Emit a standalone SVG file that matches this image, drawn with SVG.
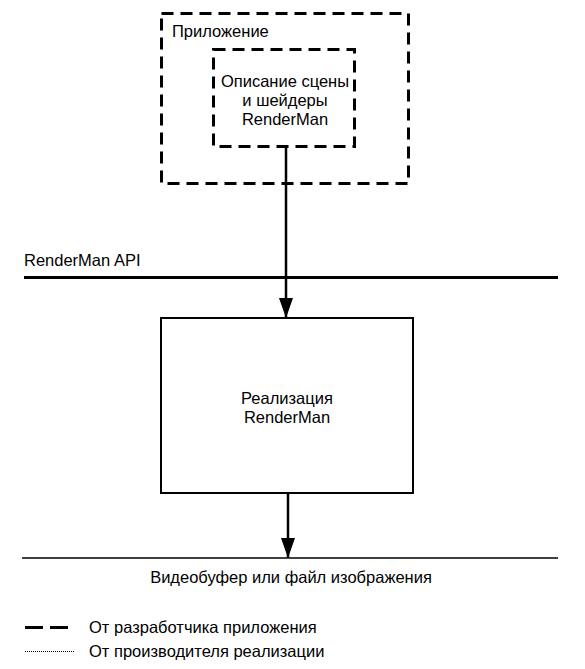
<svg xmlns="http://www.w3.org/2000/svg" width="585" height="669" viewBox="0 0 585 669">
<style>
text{font-family:"Liberation Sans",Arial,sans-serif;font-size:16.5px;fill:#000}
.dash{fill:none;stroke:#000;stroke-width:3;stroke-dasharray:12,7}
.solid{fill:none;stroke:#000;stroke-width:2}
.line{stroke:#000;fill:none}
</style>
<defs>
<marker id="arr" markerWidth="20" markerHeight="16" refX="20" refY="7" orient="auto" markerUnits="userSpaceOnUse">
<path d="M0,0 L20,7 L0,14 Z" fill="#000"/>
</marker>
</defs>
<rect width="585" height="669" fill="#fff"/>
<g id="app">
<rect class="dash" x="161.5" y="13.5" width="247" height="170"/>
<text x="172" y="37">Приложение</text>
</g>
<g id="scene">
<rect class="dash" x="213.5" y="49.5" width="141" height="97"/>
<text x="285" y="87" text-anchor="middle">Описание сцены</text>
<text x="285" y="106" text-anchor="middle">и шейдеры</text>
<text x="285" y="125" text-anchor="middle">RenderMan</text>
</g>
<g id="api">
<line class="line" x1="24" y1="277.5" x2="558" y2="277.5" stroke-width="3"/>
<text x="24" y="266">RenderMan API</text>
</g>
<g id="impl">
<rect class="solid" x="161" y="318" width="252" height="175"/>
<text x="287" y="404" text-anchor="middle">Реализация</text>
<text x="287" y="423" text-anchor="middle">RenderMan</text>
</g>
<g id="output">
<line class="line" x1="22" y1="558" x2="558" y2="558" stroke-width="1.5"/>
<text x="291" y="583" text-anchor="middle">Видеобуфер или файл изображения</text>
</g>
<g id="connectors">
<line class="line" x1="286" y1="146" x2="286" y2="318" stroke-width="2.5" marker-end="url(#arr)"/>
<line class="line" x1="288" y1="493" x2="288" y2="558" stroke-width="2.5" marker-end="url(#arr)"/>
</g>
<g id="legend">
<line class="line" x1="25" y1="627.5" x2="68" y2="627.5" stroke-width="3" stroke-dasharray="18,7"/>
<text x="89" y="633">От разработчика приложения</text>
<line class="line" x1="25" y1="651.5" x2="75" y2="651.5" stroke-width="1" stroke-dasharray="1,1"/>
<text x="89" y="657">От производителя реализации</text>
</g>
</svg>
